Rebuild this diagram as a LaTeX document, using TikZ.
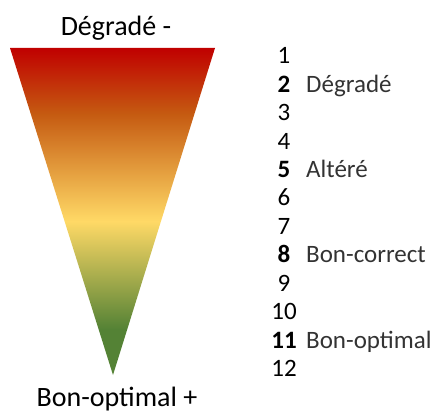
\documentclass[tikz,border=0pt]{standalone}
\usepackage{fontspec}
\setmainfont{Carlito}
\usetikzlibrary{positioning}

\definecolor{rougeq}{HTML}{C00000}
\definecolor{orangeq}{HTML}{C55A11}
\definecolor{jauneq}{HTML}{FFD966}
\definecolor{vertq}{HTML}{548235}
\definecolor{texteq}{HTML}{333333}

\pgfdeclareverticalshading{qualite}{100bp}{%
  color(0bp)=(vertq); color(32bp)=(vertq); color(48.5bp)=(jauneq);
  color(65bp)=(orangeq); color(75bp)=(rougeq); color(100bp)=(rougeq)}

\begin{document}
\begin{tikzpicture}[
  x=1pt, y=-1pt,
  txt/.style={inner sep=0pt, font=\fontsize{25}{30}\selectfont},
  titre/.style={inner sep=0pt, anchor=base, font=\fontsize{28}{34}\selectfont},
  num/.style={txt, anchor=base},
  lab/.style={txt, anchor=base west, text=texteq}
]
\useasboundingbox (0,0) rectangle (442,414);

% triangle
\coordinate (tl) at (10,48);
\coordinate (tr) at (215,48);
\coordinate (apex) at (113,375);
\shade[shading=qualite] (tl) -- (tr) -- (apex) -- cycle;

\node[titre] (haut) at (116,36)  {Dégradé -};
\node[titre] (bas)  at (117,406) {Bon-optimal +};

% echelle
\node[num] (n1)  at (284,64)    {1};
\node[num] (n2)  at (284,92.4)  {\bfseries 2};
\node[num] (n3)  at (284,120.8) {3};
\node[num] (n4)  at (284,149.2) {4};
\node[num] (n5)  at (284,177.6) {\bfseries 5};
\node[num] (n6)  at (284,206)   {6};
\node[num] (n7)  at (284,234.4) {7};
\node[num] (n8)  at (284,262.8) {\bfseries 8};
\node[num] (n9)  at (284,291.2) {9};
\node[num] (n10) at (284,319.6) {10};
\node[num] (n11) at (284,348)   {\bfseries 11};
\node[num] (n12) at (284,376.4) {12};

\coordinate (lx) at (306,0);
\node[lab] (l2)  at (lx |- n2.base)  {Dégradé};
\node[lab] (l5)  at (lx |- n5.base)  {Altéré};
\node[lab] (l8)  at (lx |- n8.base)  {Bon-correct};
\node[lab] (l11) at (lx |- n11.base) {Bon-optimal};
\end{tikzpicture}
\end{document}
